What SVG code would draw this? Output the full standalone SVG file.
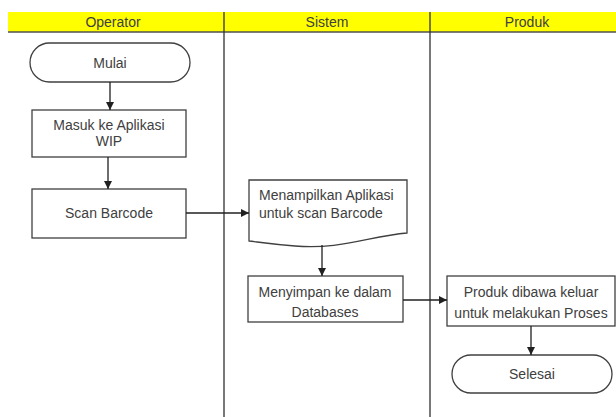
<svg xmlns="http://www.w3.org/2000/svg" width="616" height="417" viewBox="0 0 616 417">
<style>
.shape{fill:#fff;stroke:#404040;stroke-width:1.3}
.lane{stroke:#303030;stroke-width:1.3;fill:none}
.t{font-family:"Liberation Sans",Arial,sans-serif;font-size:14px;fill:#404040;text-anchor:middle}
.h{font-family:"Liberation Sans",Arial,sans-serif;font-size:14px;fill:#404040;text-anchor:middle}
.c{stroke:#202020;stroke-width:1.3;fill:none;marker-end:url(#ah)}
</style>
<defs>
<marker id="ah" viewBox="0 0 10 10" refX="10" refY="5" markerWidth="8" markerHeight="8" markerUnits="userSpaceOnUse" orient="auto">
<path d="M0,0 L10,5 L0,10 z" fill="#202020"/>
</marker>
</defs>
<rect width="616" height="417" fill="#fff"/>
<g id="header">
<rect x="8" y="12" width="608" height="20" fill="#ffff00"/>
<line x1="8" y1="32" x2="616" y2="32" stroke="#505050" stroke-width="1.5"/>
<line class="lane" x1="224" y1="12" x2="224" y2="417"/>
<line class="lane" x1="430" y1="12" x2="430" y2="417"/>
<text class="h" x="113" y="27">Operator</text>
<text class="h" x="327" y="27">Sistem</text>
<text class="h" x="527" y="27">Produk</text>
</g>
<g id="mulai">
<rect class="shape" x="30" y="43" width="160" height="39" rx="19.5"/>
<text class="t" x="110" y="68">Mulai</text>
</g>
<g id="masuk">
<rect class="shape" x="32" y="110" width="154" height="47"/>
<text class="t" x="109" y="130">Masuk ke Aplikasi</text>
<text class="t" x="109" y="146">WIP</text>
</g>
<g id="scan">
<rect class="shape" x="32" y="189" width="154" height="49"/>
<text class="t" x="109" y="218">Scan Barcode</text>
</g>
<g id="menampilkan">
<path class="shape" d="M249,180 H407 V233 C370,236 340,250 295,246 C270,244 258,242 249,241 Z"/>
<text class="t" x="259" y="200" style="text-anchor:start">Menampilkan Aplikasi</text>
<text class="t" x="259" y="218" style="text-anchor:start">untuk scan Barcode</text>
</g>
<g id="menyimpan">
<rect class="shape" x="248" y="276" width="155" height="46"/>
<text class="t" x="325" y="297">Menyimpan ke dalam</text>
<text class="t" x="325" y="317">Databases</text>
</g>
<g id="produk">
<rect class="shape" x="447" y="276" width="168" height="50"/>
<text class="t" x="531" y="297">Produk dibawa keluar</text>
<text class="t" x="531" y="318">untuk melakukan Proses</text>
</g>
<g id="selesai">
<rect class="shape" x="452" y="355" width="160" height="38" rx="19"/>
<text class="t" x="532" y="379">Selesai</text>
</g>
<g id="connectors">
<path class="c" d="M110,82 V110"/>
<path class="c" d="M108,157 V189"/>
<path class="c" d="M186,213 H249"/>
<path class="c" d="M322,245 V276"/>
<path class="c" d="M403,300 H447"/>
<path class="c" d="M531,326 V355"/>
</g>
</svg>
